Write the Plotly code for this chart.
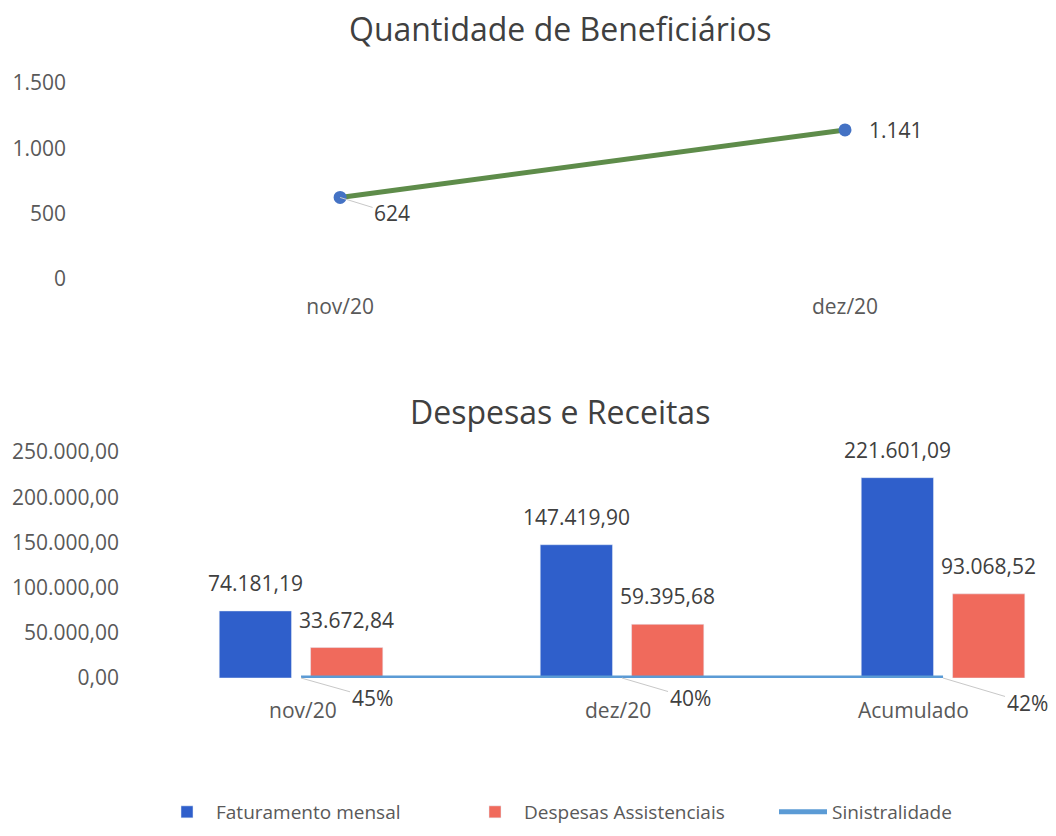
import plotly.graph_objects as go

# Quantidade de Beneficiários
meses = ["nov/20", "dez/20"]
beneficiarios = [624, 1141]

# Despesas e Receitas
categorias = ["nov/20", "dez/20", "Acumulado"]
faturamento = [74181.19, 147419.90, 221601.09]
despesas = [33672.84, 59395.68, 93068.52]
sinistralidade = [0.45, 0.40, 0.42]

# page body keeps its 8px margin, so the figure is sized to fit inside the window
OFF = 8
W, H = 1056 - 2 * OFF, 836 - 2 * OFF
FONT = "Open Sans"
TXT = "#404040"
TICK = "#595959"
BLUE = "#2f5fcb"
RED = "#f06a5c"
LIGHT = "#5b9bd5"
GREEN = "#5e8c4a"


def px_x(p):
    return (p - OFF) / W


def px_y(p):
    return 1 - (p - OFF) / H


def br(v):
    s = f"{v:,.2f}"
    return s.replace(",", "X").replace(".", ",").replace("X", ".")


def br_int(v):
    return f"{v:,}".replace(",", ".")


fig = go.Figure()

fig.add_trace(go.Scatter(
    x=meses, y=beneficiarios, mode="lines+markers",
    line=dict(color=GREEN, width=5),
    marker=dict(color="#4472c4", size=13),
    showlegend=False, xaxis="x", yaxis="y",
))

fig.add_trace(go.Bar(
    x=categorias, y=faturamento, name="Faturamento mensal",
    marker_color=BLUE, xaxis="x2", yaxis="y2",
))
fig.add_trace(go.Bar(
    x=categorias, y=despesas, name="Despesas Assistenciais",
    marker_color=RED, xaxis="x2", yaxis="y2",
))
fig.add_trace(go.Scatter(
    x=categorias, y=sinistralidade, name="Sinistralidade", mode="lines",
    line=dict(color=LIGHT, width=5), xaxis="x2", yaxis="y2",
))

annotations = [
    dict(text="Quantidade de Beneficiários", x=px_x(560), y=px_y(28), xref="paper", yref="paper",
         yanchor="middle", showarrow=False, font=dict(size=32, color=TXT)),
    dict(text="Despesas e Receitas", x=px_x(560), y=px_y(411), xref="paper", yref="paper",
         yanchor="middle", showarrow=False, font=dict(size=32, color=TXT)),
    # top line labels
    dict(text=br_int(beneficiarios[0]), x=meses[0], y=beneficiarios[0], xref="x", yref="y",
         showarrow=True, arrowhead=0, arrowwidth=1, arrowcolor="#c8c8c8", ax=52, ay=16,
         font=dict(size=21, color=TXT)),
    dict(text=br_int(beneficiarios[1]), x=meses[1], y=beneficiarios[1], xref="x", yref="y",
         showarrow=False, xshift=51, font=dict(size=21, color=TXT)),
]

# bar value labels
shift = 45.7
for cat, f, d in zip(categorias, faturamento, despesas):
    annotations.append(dict(text=br(f), x=cat, y=f, xref="x2", yref="y2", showarrow=False,
                            xshift=-shift, yshift=12, yanchor="bottom", font=dict(size=21, color=TXT)))
    annotations.append(dict(text=br(d), x=cat, y=d, xref="x2", yref="y2", showarrow=False,
                            xshift=shift, yshift=12, yanchor="bottom", font=dict(size=21, color=TXT)))

# sinistralidade labels
offsets = [(71, 20), (68, 20), (84, 25)]
for cat, s, (ax, ay) in zip(categorias, sinistralidade, offsets):
    annotations.append(dict(text=f"{s:.0%}", x=cat, y=s, xref="x2", yref="y2",
                            showarrow=True, arrowhead=0, arrowwidth=1, arrowcolor="#c8c8c8",
                            ax=ax, ay=ay, font=dict(size=21, color=TXT)))

# category labels of the lower chart (the last one sits left of its slot, as in the original)
label_shift = [2, -4, -30]
for cat, xs in zip(categorias, label_shift):
    annotations.append(dict(text=cat, x=cat, y=0, xref="x2", yref="y2", showarrow=False,
                            xshift=xs, yshift=-32, font=dict(size=21, color=TICK)))

fig.update_layout(
    width=W, height=H,
    margin=dict(l=0, r=0, t=0, b=0, autoexpand=False),
    paper_bgcolor="white", plot_bgcolor="white",
    font=dict(family=FONT, color=TICK, size=21),
    separators=",.",
    bargap=0.431, bargroupgap=0.209,
    xaxis=dict(type="category", domain=[px_x(72), px_x(1048)], range=[-0.531, 1.402],
               showgrid=False, zeroline=False, showline=False, ticks="", automargin=False,
               ticklabelstandoff=13, tickfont=dict(size=21, color=TICK)),
    yaxis=dict(domain=[px_y(279), px_y(83)], range=[0, 1500], dtick=500, tickformat=",d",
               showgrid=False, zeroline=False, showline=False, ticks="", automargin=False,
               ticklabelstandoff=5, tickfont=dict(size=21, color=TICK)),
    xaxis2=dict(type="category", domain=[px_x(128), px_x(1048)], range=[-0.539, 2.327],
                anchor="y2", showgrid=False, zeroline=False, showline=False, ticks="",
                showticklabels=False, automargin=False),
    yaxis2=dict(domain=[px_y(678), px_y(452)], range=[0, 250000], dtick=50000, tickformat=",.2f",
                anchor="x2", showgrid=False, zeroline=False, showline=False, ticks="",
                automargin=False, ticklabelstandoff=8, tickfont=dict(size=21, color=TICK)),
    legend=dict(orientation="h", x=px_x(158), xanchor="left", y=px_y(812), yanchor="middle",
                font=dict(size=19, color=TICK), itemwidth=48, entrywidth=245,
                traceorder="normal"),
    annotations=annotations,
)

fig.write_html("out.html")
